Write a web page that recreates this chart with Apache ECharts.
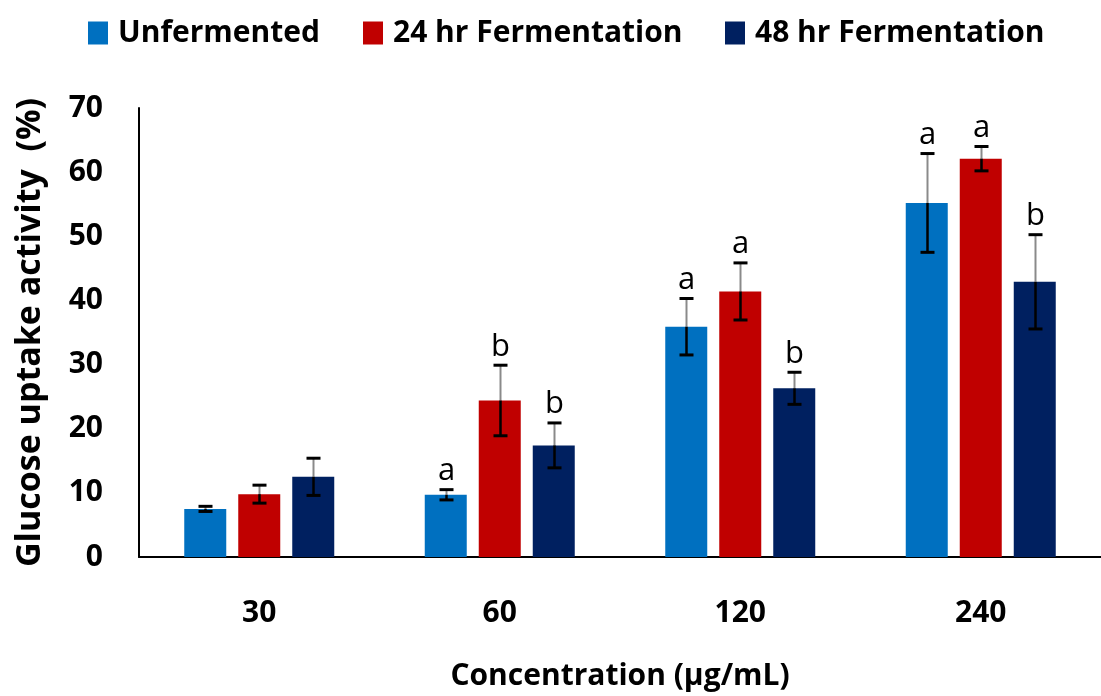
<!DOCTYPE html>
<html><head><meta charset="utf-8">
<script src="https://cdn.jsdelivr.net/npm/echarts@6/dist/echarts.min.js"></script>
<style>html,body{margin:0;padding:0;background:#fff}#c{width:1101px;height:696px}</style>
</head><body><div id="c"></div>
<script>
const categories = ['30', '60', '120', '240'];
const seriesNames = ['Unfermented', '24 hr Fermentation', '48 hr Fermentation'];
const unfermented = [7.5, 9.7, 35.9, 55.2];
const unfermentedErr = [0.4, 0.8, 4.4, 7.7];
const ferment24 = [9.8, 24.4, 41.4, 62.1];
const ferment24Err = [1.4, 5.5, 4.45, 1.9];
const ferment48 = [12.5, 17.4, 26.3, 42.9];
const ferment48Err = [2.9, 3.5, 2.5, 7.35];
const unfermentedLetters = ['', 'a', 'a', 'a'];
const ferment24Letters = ['', 'b', 'a', 'a'];
const ferment48Letters = ['', 'b', 'b', 'b'];
const yMin = 0, yMax = 70, yStep = 10;

const colors = ['#0070C0', '#C00000', '#002060'];
const FONT = '"Open Sans", sans-serif';
const BAR_W = 42, GAP = 12;

function barSeries(idx, vals) {
  return {
    name: seriesNames[idx], type: 'bar', data: vals,
    barWidth: BAR_W, barGap: (GAP / BAR_W * 100) + '%',
    itemStyle: { color: colors[idx] }
  };
}
function errSeries(idx, vals, errs, letters) {
  return {
    name: 'err' + idx, type: 'custom', z: 10,
    data: vals.map((v, i) => [i, v, errs[i]]),
    renderItem(params, api) {
      const i = api.value(0), v = api.value(1), e = api.value(2);
      const letter = letters[i];
      const off = (idx - 1) * (BAR_W + GAP);
      const top = api.coord([i, v + e]);
      const mid = api.coord([i, v]);
      const bot = api.coord([i, v - e]);
      const x = Math.round(top[0] + off) + 0.5;
      const cw = 7;
      const children = [
        { type: 'line', shape: { x1: x, y1: top[1], x2: x, y2: mid[1] }, style: { stroke: '#8a8a8a', lineWidth: 2 } },
        { type: 'line', shape: { x1: x, y1: mid[1], x2: x, y2: bot[1] }, style: { stroke: '#000', lineWidth: 2.5 } },
        { type: 'line', shape: { x1: x - cw, y1: top[1], x2: x + cw, y2: top[1] }, style: { stroke: '#000', lineWidth: 3 } },
        { type: 'line', shape: { x1: x - cw, y1: bot[1], x2: x + cw, y2: bot[1] }, style: { stroke: '#000', lineWidth: 3 } }
      ];
      if (letter) {
        children.push({ type: 'text', style: { text: letter, x: x, y: top[1] - 3, align: 'center', verticalAlign: 'bottom',
          fontSize: 31, fontFamily: FONT, fill: '#000' } });
      }
      return { type: 'group', children };
    }
  };
}
function legendAt(idx, left) {
  return {
    data: [seriesNames[idx]], left: left, top: 13, icon: 'rect', itemWidth: 20, itemHeight: 23, itemGap: 0,
    textStyle: { fontFamily: FONT, fontWeight: 'bold', fontSize: 30, color: '#000', padding: [0, 0, 0, 5] },
    selectedMode: false
  };
}

const chart = echarts.init(document.getElementById('c'), null, { renderer: 'canvas' });
chart.setOption({
  animation: false,
  backgroundColor: '#fff',
  textStyle: { fontFamily: FONT },
  legend: [legendAt(0, 83), legendAt(1, 358), legendAt(2, 720)],
  grid: { left: 139, right: -12, top: 108, bottom: 132, containLabel: false },
  xAxis: {
    type: 'category', data: categories,
    axisLine: { lineStyle: { color: '#000', width: 2 } },
    axisTick: { show: false },
    axisLabel: { margin: 41, fontFamily: FONT, fontWeight: 'bold', fontSize: 30, color: '#000' },
    name: 'Concentration (µg/mL)', nameLocation: 'middle', nameGap: 104,
    nameTextStyle: { fontFamily: FONT, fontWeight: 'bold', fontSize: 30, color: '#000' }
  },
  yAxis: {
    type: 'value', min: yMin, max: yMax, interval: yStep,
    splitLine: { show: false },
    axisLine: { show: true, lineStyle: { color: '#000', width: 2 } },
    axisTick: { show: false },
    axisLabel: { margin: 36, fontFamily: FONT, fontWeight: 'bold', fontSize: 30, color: '#000' },
    name: 'Glucose uptake activity  (%)', nameLocation: 'middle', nameGap: 92, nameRotate: 90,
    nameTextStyle: { fontFamily: FONT, fontWeight: 'bold', fontSize: 34, color: '#000' }
  },
  series: [
    barSeries(0, unfermented), barSeries(1, ferment24), barSeries(2, ferment48),
    errSeries(0, unfermented, unfermentedErr, unfermentedLetters),
    errSeries(1, ferment24, ferment24Err, ferment24Letters),
    errSeries(2, ferment48, ferment48Err, ferment48Letters)
  ]
});
</script></body></html>
